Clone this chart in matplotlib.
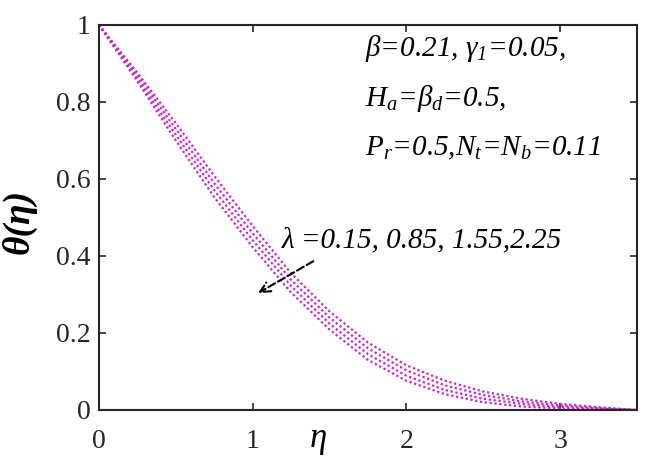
import matplotlib
matplotlib.use("Agg")
import matplotlib.pyplot as plt

plt.rcParams["font.family"] = ["Liberation Serif", "DejaVu Serif"]
plt.rcParams["mathtext.fontset"] = "custom"
plt.rcParams["mathtext.rm"] = "Liberation Serif:italic"
plt.rcParams["mathtext.it"] = "Liberation Serif:italic"

eta = [0.0, 0.25, 0.5, 0.75, 1.0, 1.25, 1.5, 1.75, 2.0, 2.25, 2.5, 2.75, 3.0, 3.25, 3.5]

theta_l015 = [1.0, 0.876, 0.745, 0.608, 0.478, 0.355, 0.256, 0.175, 0.116, 0.076, 0.048, 0.029, 0.016, 0.007, 0.0]
theta_l085 = [1.0, 0.869, 0.730, 0.589, 0.459, 0.338, 0.240, 0.160, 0.103, 0.064, 0.039, 0.022, 0.012, 0.005, 0.0]
theta_l155 = [1.0, 0.861, 0.715, 0.571, 0.441, 0.322, 0.224, 0.145, 0.089, 0.052, 0.029, 0.016, 0.008, 0.003, 0.0]
theta_l225 = [1.0, 0.854, 0.700, 0.553, 0.423, 0.305, 0.209, 0.130, 0.076, 0.041, 0.020, 0.009, 0.004, 0.001, 0.0]

xticks = [0, 1, 2, 3]
yticks = [0, 0.2, 0.4, 0.6, 0.8, 1]
ytick_labels = ["0", "0.2", "0.4", "0.6", "0.8", "1"]

fig = plt.figure(figsize=(6.55, 4.62), dpi=100)
ax = fig.add_subplot()
fig.subplots_adjust(left=0.151, right=0.9725, top=0.946, bottom=0.1126)

for th in [theta_l015, theta_l085, theta_l155, theta_l225]:
    ax.plot(eta, th, linestyle=(0, (1, 1.2)), color="#cc22cc", linewidth=1.6)

ax.set_xlim(0, 3.5)
ax.set_ylim(0, 1)
ax.set_xticks(xticks)
ax.set_yticks(yticks)
ax.set_yticklabels(ytick_labels)
ax.tick_params(direction="in", length=5, width=1.2, labelsize=20, top=True, right=True,
               colors="#262626")
ax.tick_params(axis="x", pad=14)
ax.tick_params(axis="y", pad=6)
for s in ax.spines.values():
    s.set_linewidth(1.5)
    s.set_color("#262626")

ax.set_ylabel("θ(η)", fontsize=27, fontweight="bold", style="italic")
ax.yaxis.set_label_coords(-0.115, 0.49)
ax.text(0.407, -0.075, "η", transform=ax.transAxes, fontsize=25, style="italic",
        ha="center", va="center")

ax.text(1.733, 0.94, "β=0.21, γ$_1$=0.05,", fontsize=21, style="italic", va="center")
ax.text(1.733, 0.81, "H$_a$=β$_d$=0.5,", fontsize=21, style="italic", va="center")
ax.text(1.733, 0.68, "P$_r$=0.5,N$_t$=N$_b$=0.11", fontsize=21, style="italic", va="center")

ax.text(1.19, 0.44, "λ =0.15, 0.85, 1.55,2.25", fontsize=21, style="italic", va="center")
ax.annotate("", xy=(1.02, 0.30), xytext=(1.41, 0.39),
            arrowprops=dict(arrowstyle="->", linestyle="--", color="black", lw=1.5,
                            mutation_scale=18))

fig.savefig("out.png", dpi=100)
